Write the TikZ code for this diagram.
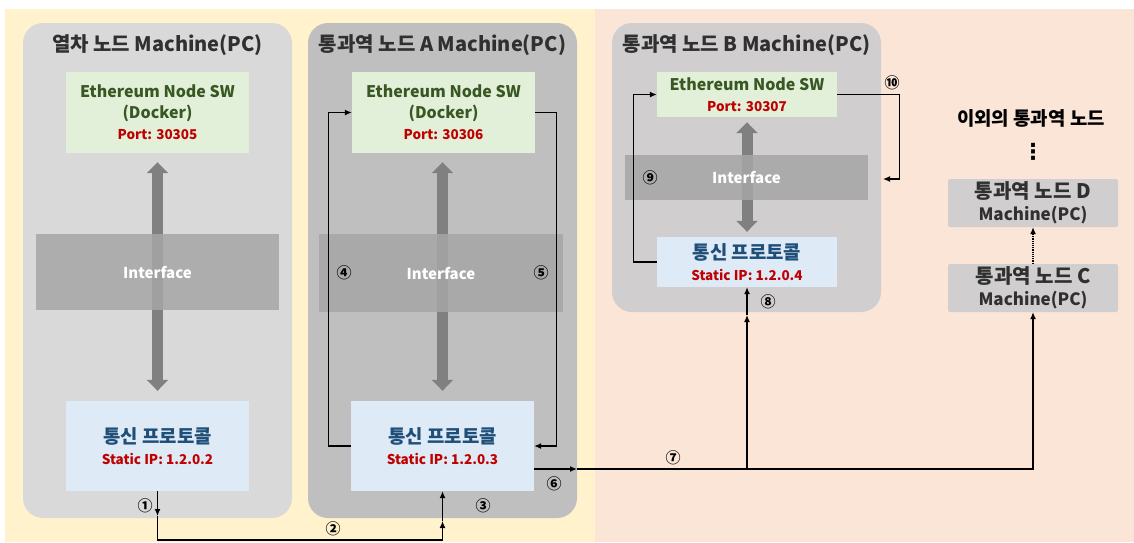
\documentclass[tikz,border=0pt]{standalone}
\usepackage{fontspec}
\setmainfont{Noto Sans CJK KR}
\newfontfamily\hgfont{Noto Sans CJK KR}[Scale=1.18]
\newfontfamily\symfont{DejaVu Sans}
\usepackage{xcolor}
\usetikzlibrary{arrows.meta}

\definecolor{bgyellow}{HTML}{FFF2CC}
\definecolor{bgpeach}{HTML}{FBE5D6}
\definecolor{boxlight}{HTML}{D9D9D9}
\definecolor{boxdark}{HTML}{BFBFBF}
\definecolor{boxmid}{HTML}{D0CECE}
\definecolor{swgreen}{HTML}{E2F0D9}
\definecolor{swtext}{HTML}{385723}
\definecolor{netblue}{HTML}{DEEBF7}
\definecolor{nettext}{HTML}{1F4E79}
\definecolor{portred}{HTML}{C00000}
\definecolor{titletext}{HTML}{303030}

\newcommand{\redline}[1]{{\color{portred}\fontsize{13.5}{19}\selectfont #1}}
\newcommand{\hg}[1]{{\hgfont #1}}

\begin{document}
\begin{tikzpicture}[x=1pt,y=-1pt,
  machine/.style={fill=#1, rounded corners=20pt, minimum width=269pt, inner sep=0pt},
  title/.style={text=titletext, font=\bfseries\fontsize{20}{22}\selectfont},
  swbox/.style={fill=swgreen, text=swtext, minimum width=183pt, align=center,
    inner sep=0pt, font=\bfseries\fontsize{16}{21}\selectfont},
  netbox/.style={fill=netblue, text=nettext, minimum width=183pt, align=center,
    inner sep=0pt, font=\bfseries\fontsize{16}{21}\selectfont},
  iface/.style={fill=black!35, fill opacity=0.85, text opacity=1, text=white,
    minimum width=243pt, font=\bfseries\fontsize{15}{18}\selectfont},
  other/.style={fill=boxmid, rounded corners=2pt, minimum width=170pt, minimum height=48pt,
    align=center, inner sep=0pt, text=titletext, font=\bfseries\fontsize{17}{22}\selectfont},
  bigarrow/.style={draw=black!50, line width=11pt,
    {Triangle[width=21pt,length=11pt]}-{Triangle[width=21pt,length=11pt]}},
  link/.style={draw=black, line width=1.2pt, -{Latex[length=7pt,width=6pt]}},
  num/.style={font=\bfseries\fontsize{15}{16}\selectfont}]
\useasboundingbox (0,0) rectangle (1134,542);

% Background
\fill[bgyellow] (5,9) rectangle (595,542);
\fill[bgpeach] (595,9) rectangle (1134,542);

% Machines
\node[machine=boxlight, minimum height=495pt] (m1) at (157.5,270.5) {};
\node[machine=boxdark, minimum height=495pt] (m2) at (442.5,270.5) {};
\node[machine=boxmid, minimum height=289pt] (m3) at (746.5,167.5) {};
\node[title] (t1) at (157.5,45) {열차 노드 Machine(PC)};
\node[title] (t2) at (442.5,45) {통과역 노드 A Machine(PC)};
\node[title] (t3) at (746.5,45) {통과역 노드 B Machine(PC)};

% Nodes
\node[swbox, minimum height=81pt] (g1) at (157.5,112.5) {Ethereum Node SW\\(Docker)\\\redline{Port: 30305}};
\node[swbox, minimum height=81pt] (g2) at (443.5,112.5) {Ethereum Node SW\\(Docker)\\\redline{Port: 30306}};
\node[swbox, minimum width=180pt, minimum height=45pt] (g3) at (747,94.5) {Ethereum Node SW\\\redline{Port: 30307}};

\node[netbox, minimum height=90pt] (b1) at (157.5,446) {\hg{통신 프로토콜}\\\redline{Static IP: 1.2.0.2}};
\node[netbox, minimum height=90pt] (b2) at (442.5,446) {\hg{통신 프로토콜}\\\redline{Static IP: 1.2.0.3}};
\node[netbox, minimum width=180pt, minimum height=50pt] (b3) at (747,262) {\hg{통신 프로토콜}\\\redline{Static IP: 1.2.0.4}};

\node[other] (nc) at (1033,288) {\hg{통과역 노드 C}\\Machine(PC)};
\node[other] (nd) at (1033,203) {\hg{통과역 노드 D}\\Machine(PC)};
\node[text=black, font=\bfseries\fontsize{16}{18}\selectfont] (rest) at (1031,118) {\hg{이외의 통과역 노드}};
\node[font=\symfont\bfseries\fontsize{22}{22}\selectfont, inner sep=0pt] (dots) at (1033,152) {⋮};

% Interface arrows
\draw[bigarrow, shorten <=9pt, shorten >=10pt] (g1) -- (b1);
\draw[bigarrow, shorten <=9pt, shorten >=10pt] (g2.south -| b2) -- (b2);
\draw[bigarrow, shorten <=5pt, shorten >=5pt] (g3) -- (b3);

\node[iface, minimum height=76pt] (i1) at (157.5,272) {Interface};
\node[iface, minimum width=244pt, minimum height=78pt] (i2) at (441,273) {Interface};
\node[iface, minimum height=45pt] (i3) at (746.5,177.5) {Interface};

% Points
\coordinate (p1) at (157.5,516);
\coordinate (p2) at (442.5,521);
\coordinate (p6) at (577,469);
\coordinate (p7) at (747,469);
\coordinate (p8) at (747,315);
\coordinate (p10) at (883,179);

% Arrows
\draw[link] (b1.south) -- (p1);
\draw[link] (p1) -- ++(0,24) -| (p2);
\draw[link] (p2) -- (b2.south);
\draw[link] (b2.west) -- ++(-22,0) |- (g2.west);
\draw[link] (g2.east) -- ++(21,0) |- (b2.east);
\draw[link] (b2.east |- p6) -- (p6);
\draw[link] (p6) -| (nc.south);
\draw[link] (p7) -- (p8);
\draw[link] (p8) -- (b3.south);
\draw[link] (b3.west) -- ++(-23,0) |- (g3.west);
\draw[link] (g3.east) -- ++(62,0) |- (p10);
\draw[link, densely dotted] (nc.north) -- (nd.south);

% Labels
\node[num] at (145,506) {①};
\node[num] at (333,529) {②};
\node[num] at (483,506) {③};
\node[num] at (344,273) {④};
\node[num] at (541,273) {⑤};
\node[num] at (554,484) {⑥};
\node[num] at (673,458) {⑦};
\node[num] at (768,302) {⑧};
\node[num] at (650,178) {⑨};
\node[num] at (892,83) {⑩};
\end{tikzpicture}
\end{document}
